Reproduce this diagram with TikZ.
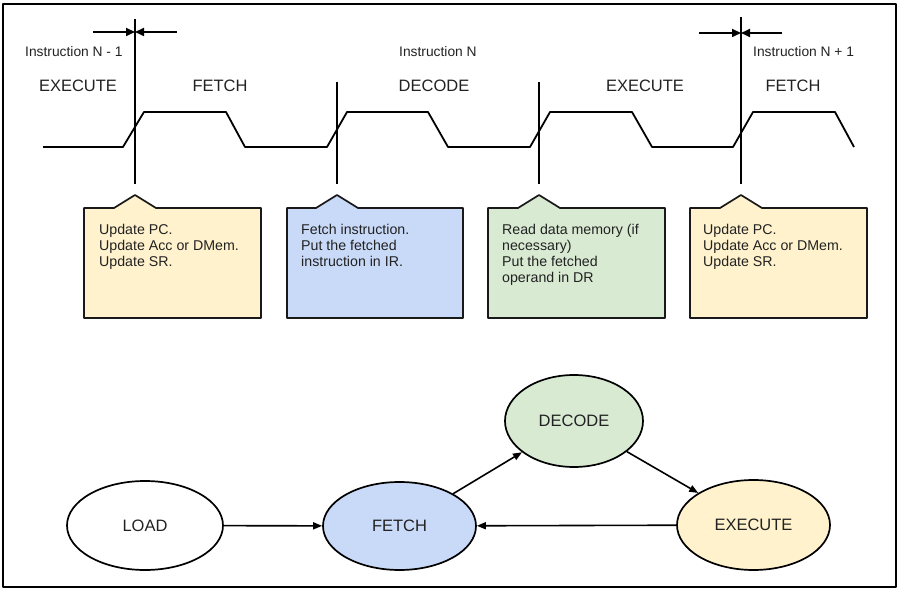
\documentclass[tikz,border=0pt]{standalone}
\usepackage{fontspec}
\setmainfont{Liberation Sans}
\usetikzlibrary{arrows.meta,shapes.geometric}
\definecolor{yel}{HTML}{FFF2CC}
\definecolor{blu}{HTML}{C9DAF8}
\definecolor{grn}{HTML}{D9EAD3}
\definecolor{txt}{HTML}{222222}
\newcommand\fntBig{\fontsize{16.5}{20}\selectfont}
\newcommand\fntSmall{\fontsize{13.8}{16}\selectfont}
\newcommand\fntBox{\fontsize{14.2}{16}\selectfont}
\begin{document}
\begin{tikzpicture}[x=1pt,y=-1pt,line join=round,
  wave/.style={line width=1.8pt},
  vline/.style={line width=1.7pt},
  callbox/.style={line width=1.7pt,draw=black!90},
  lbl/.style={inner sep=0pt,text=txt,font=\fntSmall,anchor=base west},
  phase/.style={inner sep=0pt,text=txt,font=\fntBig,anchor=base},
  boxtxt/.style={inner sep=0pt,text=txt,font=\fntBox,anchor=north west,align=left},
  state/.style={ellipse,draw,line width=1.7pt,inner sep=0pt,text=txt,font=\fntBig},
  conn/.style={line width=1.6pt,-{Triangle[length=9pt,width=7pt]}},
  tarr/.style={line width=1.7pt,-{Triangle[length=9pt,width=8pt]}}
]
\useasboundingbox (0,0) rectangle (905,593);
\draw[line width=1.8pt] (3,4) rectangle (896,587);

% waveform
\draw[wave] (43,147) -- (123,147) -- (144,112) -- (226,112) -- (245,147)
  -- (327,147) -- (347,112) -- (428,112) -- (448,147) -- (530,147)
  -- (550,112) -- (632,112) -- (652,147) -- (733,147) -- (753,112)
  -- (835,112) -- (854,147);

% vertical markers
\coordinate (v1t) at (135,19);  \coordinate (v1b) at (135,184);
\coordinate (v2t) at (337,82);  \coordinate (v2b) at (337,184);
\coordinate (v3t) at (539,82);  \coordinate (v3b) at (539,184);
\coordinate (v4t) at (741,17);  \coordinate (v4b) at (741,184);
\draw[vline] (v1t) -- (v1b);
\draw[vline] (v2t) -- (v2b);
\draw[vline] (v3t) -- (v3b);
\draw[vline] (v4t) -- (v4b);

% boundary arrows
\coordinate (a1l) at (93,32);  \coordinate (a1m) at (135,32); \coordinate (a1r) at (177,32);
\coordinate (a4l) at (699,33); \coordinate (a4m) at (741,33); \coordinate (a4r) at (782,33);
\draw[tarr] (a1l) -- (a1m);
\draw[tarr] (a1r) -- (a1m);
\draw[tarr] (a4l) -- (a4m);
\draw[tarr] (a4r) -- (a4m);

% labels
\node[lbl] (in1) at (25,57) {Instruction N - 1};
\node[lbl] (in2) at (399,57) {Instruction N};
\node[lbl] (in3) at (753,57) {Instruction N + 1};
\node[phase] (p1) at (78,92) {EXECUTE};
\node[phase] (p2) at (220,92) {FETCH};
\node[phase] (p3) at (434,92) {DECODE};
\node[phase] (p4) at (645,92) {EXECUTE};
\node[phase] (p5) at (793,92) {FETCH};

% callout boxes
\draw[callbox,fill=yel] (84,208) -- (114,208) -- (135,195) -- (156,208) -- (261,208) -- (261,318) -- (84,318) -- cycle;
\draw[callbox,fill=blu] (287,208) -- (316,208) -- (337,195) -- (358,208) -- (463,208) -- (463,318) -- (287,318) -- cycle;
\draw[callbox,fill=grn] (488,208) -- (518,208) -- (539,195) -- (560,208) -- (665,208) -- (665,318) -- (488,318) -- cycle;
\draw[callbox,fill=yel] (690,208) -- (720,208) -- (741,195) -- (762,208) -- (867,208) -- (867,318) -- (690,318) -- cycle;
\node[boxtxt] (t1) at (99,224.5) {Update PC.\\Update Acc or DMem.\\Update SR.};
\node[boxtxt] (t2) at (301,224.5) {Fetch instruction.\\Put the fetched\\instruction in IR.};
\node[boxtxt] (t3) at (502,224.5) {Read data memory (if\\necessary)\\Put the fetched\\operand in DR};
\node[boxtxt] (t4) at (703,224.5) {Update PC.\\Update Acc or DMem.\\Update SR.};

% state diagram
\node[state,minimum width=156pt,minimum height=89pt] (load) at (145,525.5) {LOAD};
\node[state,fill=blu,minimum width=153pt,minimum height=88pt] (fetch) at (399.5,526) {FETCH};
\node[state,fill=grn,minimum width=138pt,minimum height=92pt] (decode) at (574,421) {DECODE};
\node[state,fill=yel,minimum width=153pt,minimum height=90pt] (execute) at (753.5,525) {EXECUTE};
\draw[conn] (load) -- (fetch);
\draw[conn] (fetch) -- (decode);
\draw[conn] (decode) -- (execute);
\draw[conn] (execute) -- (fetch);
\end{tikzpicture}
\end{document}
